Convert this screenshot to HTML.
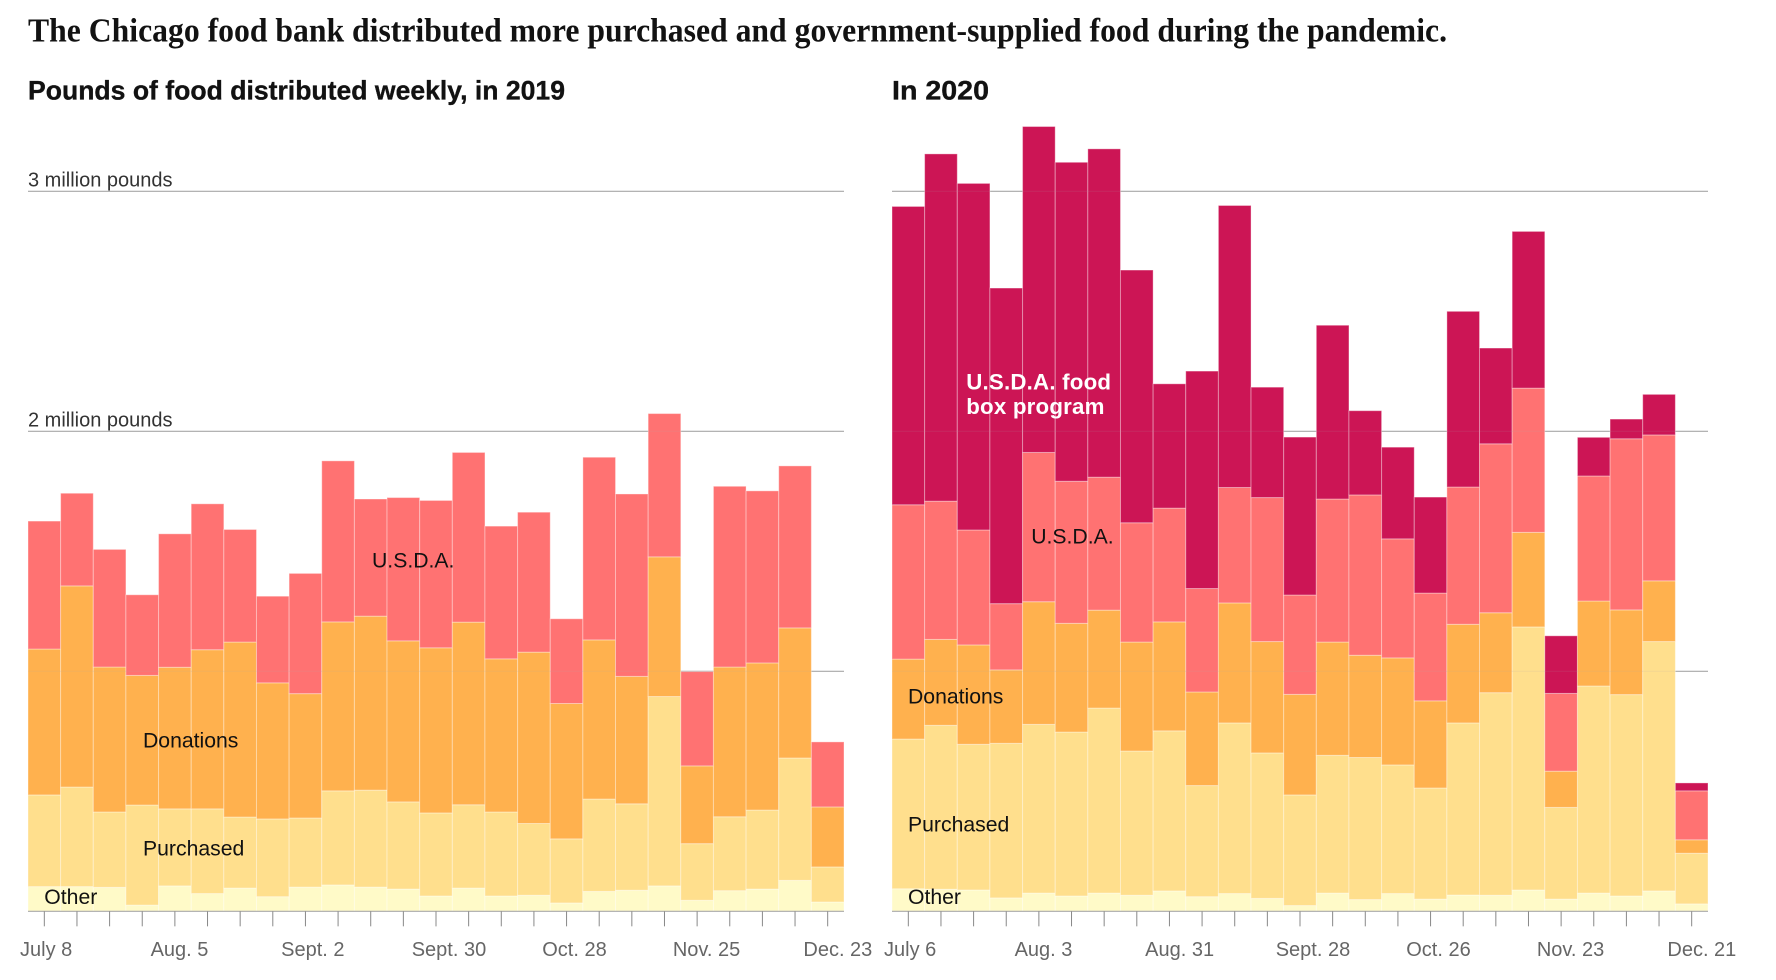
<!DOCTYPE html>
<html lang="en">
<head>
<meta charset="utf-8">
<title>Chicago food bank distribution</title>
<style>
  html, body { margin: 0; padding: 0; background: #fff; }
  svg { display: block; }
  .sans { font-family: "Liberation Sans", sans-serif; }
  .serif { font-family: "Liberation Serif", serif; }
  .series-label { font-size: 21.2px; fill: #111; }
  .axis-label { font-size: 20px; fill: #666; }
  .y-label { font-size: 20px; fill: #333; }
</style>
</head>
<body>
<svg id="chart" width="1776" height="980" viewBox="0 0 1776 980" xmlns="http://www.w3.org/2000/svg">
  <text class="serif" x="28" y="41.7" font-size="34" font-weight="700" fill="#121212" textLength="1419" lengthAdjust="spacingAndGlyphs">The Chicago food bank distributed more purchased and government-supplied food during the pandemic.</text>
  <text class="sans" x="28" y="99.3" font-size="26.5" font-weight="700" fill="#121212" stroke="#121212" stroke-width="0.35" textLength="537" lengthAdjust="spacingAndGlyphs">Pounds of food distributed weekly, in 2019</text>
  <text class="sans" x="892" y="99.3" font-size="26.5" font-weight="700" fill="#121212" stroke="#121212" stroke-width="0.35" textLength="97" lengthAdjust="spacingAndGlyphs">In 2020</text>
  <g id="panel-2019"></g>
  <g id="panel-2020"></g>
  <g>
    <text class="sans series-label" x="372" y="567.5">U.S.D.A.</text>
    <text class="sans series-label" x="143" y="747.5">Donations</text>
    <text class="sans series-label" x="143" y="855.5">Purchased</text>
    <text class="sans series-label" x="44.3" y="904">Other</text>
    <text class="sans" x="966.2" y="389.5" font-size="22.3" font-weight="700" fill="#fff" letter-spacing="0.2">U.S.D.A. food</text>
    <text class="sans" x="966.2" y="414" font-size="22.3" font-weight="700" fill="#fff" letter-spacing="0.2">box program</text>
    <text class="sans series-label" x="1031.2" y="543.5">U.S.D.A.</text>
    <text class="sans series-label" x="908" y="703.5">Donations</text>
    <text class="sans series-label" x="908" y="831.5">Purchased</text>
    <text class="sans series-label" x="908" y="904">Other</text>
  </g>
</svg>
<script>
// Values in thousands of pounds per week.
var other2019 = [103,103,100,26,106,74,97,61,101,110,101,93,64,97,64,67,35,83,88,106,46,86,93,129,39];
var purchased2019 = [382,415,314,417,321,353,296,324,288,392,404,363,346,347,350,299,267,385,360,789,236,308,329,510,146];
var donations2019 = [608,838,604,540,590,663,729,567,518,704,725,671,688,761,638,714,564,663,531,582,324,624,613,542,250];
var usda2019 = [533,386,490,336,556,608,469,361,501,671,488,597,614,707,553,583,353,761,760,597,393,753,717,675,271];

var other2020 = [94,92,89,56,76,64,76,67,85,61,74,54,24,76,49,74,51,68,67,89,51,76,64,85,31];
var purchased2020 = [624,683,607,644,703,683,771,601,667,463,711,606,461,574,592,536,463,717,844,1096,382,863,839,1039,211];
var donations2020 = [333,358,414,306,511,453,408,454,454,390,500,464,419,472,426,446,363,411,333,394,151,354,353,253,56];
var usda2020 = [643,576,479,276,622,592,554,497,474,431,481,600,414,596,668,496,449,572,704,601,324,521,713,608,204];
var foodBox2020 = [1243,1447,1444,1315,1358,1329,1368,1053,518,906,1175,460,658,724,351,382,400,732,399,653,240,161,82,169,33];

var tickLabels2019 = ['July 8','Aug. 5','Sept. 2','Sept. 30','Oct. 28','Nov. 25','Dec. 23'];
var tickLabels2020 = ['July 6','Aug. 3','Aug. 31','Sept. 28','Oct. 26','Nov. 23','Dec. 21'];
var gridMillions = [1,2,3];

var NS = 'http://www.w3.org/2000/svg';
var PANEL_W = 816, BASE_Y = 911.33, PX_PER_THOUSAND = 0.24, LABEL_EVERY = 4;

function yScale(thousands) { return BASE_Y - thousands * PX_PER_THOUSAND; }
function bandWidth(n) { return PANEL_W / n; }
function xScale(left, i, n) { return left + i * bandWidth(n); }

function make(tag, attrs, parent) {
  var el = document.createElementNS(NS, tag);
  for (var k in attrs) el.setAttribute(k, attrs[k]);
  parent.appendChild(el);
  return el;
}

function drawGrid(g, left, overlay) {
  gridMillions.forEach(function (m) {
    var y = yScale(m * 1000);
    var line = make('line', {x1: left, x2: left + PANEL_W, y1: y, y2: y,
      stroke: overlay ? 'rgba(170,170,170,0.12)' : '#aaa', 'stroke-width': 1.2}, g);
    
    
  });
}

function drawBars(g, left, series) {
  var n = series[0].values.length;
  for (var i = 0; i < n; i++) {
    var total = 0;
    series.forEach(function (s) {
      var v = s.values[i];
      var top = yScale(total + v);
      var rect = make('rect', {x: xScale(left, i, n), y: top, width: bandWidth(n),
        height: yScale(total) - top, fill: s.color,
        stroke: 'rgba(255,255,255,0.36)', 'stroke-width': 1}, g);
      
      
      total += v;
    });
  }
}

function drawAxis(g, left, n, labels) {
  var base = make('line', {x1: left, x2: left + PANEL_W, y1: BASE_Y, y2: BASE_Y, stroke: '#aaa', 'stroke-width': 1.2}, g);
  
  
  for (var i = 0; i < n; i++) {
    var x = xScale(left, i, n) + bandWidth(n) / 2;
    var tick = make('line', {x1: x, x2: x, y1: BASE_Y, y2: BASE_Y + 15, stroke: '#888', 'stroke-width': 1}, g);
    
    
    if (i % LABEL_EVERY === 0) {
      var t = make('text', {x: x - 24.3, y: 956, 'class': 'sans axis-label'}, g);
      t.textContent = labels[i / LABEL_EVERY];
      
      
    }
  }
}

function drawYLabels(g, left) {
  gridMillions.forEach(function (m) {
    if (m < 2) return;
    var t = make('text', {x: left, y: yScale(m * 1000) - 5, 'class': 'sans y-label'}, g);
    t.textContent = m + ' million pounds';
    
    
  });
}

function drawPanel(id, left, series, labels, withY) {
  var g = document.getElementById(id);
  drawGrid(g, left, false);
  if (withY) drawYLabels(g, left);
  drawBars(g, left, series);
  drawGrid(g, left, true);
  drawAxis(g, left, series[0].values.length, labels);
}

var COLOR_OTHER = '#fffac8', COLOR_PURCHASED = '#ffdf8d', COLOR_DONATIONS = '#ffb14e', COLOR_USDA = '#ff7272', COLOR_BOX = '#cc1555';

drawPanel('panel-2019', 28, [
  {name: 'other', values: other2019, color: COLOR_OTHER},
  {name: 'purchased', values: purchased2019, color: COLOR_PURCHASED},
  {name: 'donations', values: donations2019, color: COLOR_DONATIONS},
  {name: 'usda', values: usda2019, color: COLOR_USDA}
], tickLabels2019, true);

drawPanel('panel-2020', 892, [
  {name: 'other', values: other2020, color: COLOR_OTHER},
  {name: 'purchased', values: purchased2020, color: COLOR_PURCHASED},
  {name: 'donations', values: donations2020, color: COLOR_DONATIONS},
  {name: 'usda', values: usda2020, color: COLOR_USDA},
  {name: 'food-box', values: foodBox2020, color: COLOR_BOX}
], tickLabels2020, false);
</script>
</body>
</html>
